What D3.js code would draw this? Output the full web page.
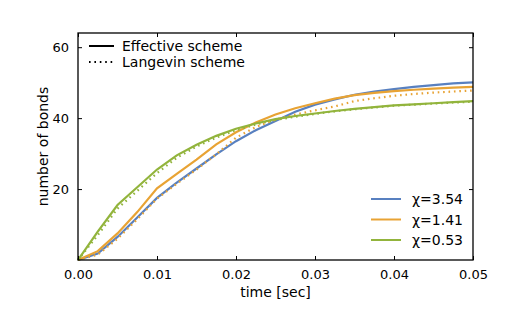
<!DOCTYPE html>
<html>
<head>
<meta charset="utf-8">
<script src="https://cdn.jsdelivr.net/npm/d3@7"></script>
<style>
  body { margin: 0; background: #fff; }
  text { font-family: "DejaVu Sans", sans-serif; fill: #000; }
</style>
</head>
<body>
<svg id="chart"></svg>
<script>
var options = {
    width: 525,
    height: 325,
    marginLeft: 78,
    marginRight: 52,
    marginTop: 33,
    marginBottom: 65,
    tickFont: 13,
    labelFont: 14,
    tickLen: 4
};

// time in seconds
var times = [0, 0.0025, 0.005, 0.0075, 0.01, 0.0125, 0.015, 0.0175, 0.02, 0.0225, 0.025,
    0.0275, 0.03, 0.0325, 0.035, 0.0375, 0.04, 0.0425, 0.045, 0.0475, 0.05];

// effective scheme (solid)
var effective354 = [0, 1.8, 6.5, 12, 17.5, 21.8, 25.8, 29.8, 33.5, 36.6, 39.2, 41.8, 43.8, 45.3, 46.6, 47.5, 48.2, 48.8, 49.3, 49.8, 50.1];
var effective141 = [0, 2.5, 7.5, 13.5, 20.2, 24.3, 28.3, 32.6, 36, 38.8, 41, 42.8, 44.2, 45.5, 46.5, 47.1, 47.6, 48, 48.3, 48.6, 48.8];
var effective053 = [0, 8, 15.5, 20.5, 25.5, 29.5, 32.5, 35, 37, 38.5, 39.7, 40.6, 41.3, 42, 42.6, 43.1, 43.6, 43.9, 44.2, 44.5, 44.8];

// langevin scheme (dotted)
var langevin141 = [0, 1.5, 6, 11.5, 17.3, 21.5, 25.5, 29.8, 34.5, 37.5, 39.6, 41, 42.2, 43.3, 44.8, 45.6, 46.3, 46.8, 47.2, 47.5, 47.8];
var langevin053 = [0, 7, 14.5, 19.5, 24.5, 28.8, 32, 34.5, 36.6, 38.2, 39.5, 40.4, 41.2, 41.9, 42.5, 43, 43.5, 43.8, 44.1, 44.4, 44.6];

var chiLabels = ["\u03c7=3.54", "\u03c7=1.41", "\u03c7=0.53"];
var colors = ["#5880c0", "#e8a334", "#92b43c"];
var schemeLabels = ["Effective scheme", "Langevin scheme"];

var xTicks = [0, 0.01, 0.02, 0.03, 0.04, 0.05];
var yTicks = [20, 40, 60];

var series = [
    {values: effective354, color: colors[0], dotted: false},
    {values: langevin141, color: colors[1], dotted: true},
    {values: effective141, color: colors[1], dotted: false},
    {values: langevin053, color: colors[2], dotted: true},
    {values: effective053, color: colors[2], dotted: false}
];

var plotW = options.width - options.marginLeft - options.marginRight;
var plotH = options.height - options.marginTop - options.marginBottom;

var xScale = d3.scaleLinear().domain([0, 0.05]).range([0, plotW]);
var yScale = d3.scaleLinear().domain([0, 64]).range([plotH, 0]);

var svg = d3.select('#chart')
    .attr('width', options.width)
    .attr('height', options.height);

var plotG = svg.append('g')
    .attr('transform', 'translate(' + options.marginLeft + ',' + options.marginTop + ')');

var line = d3.line()
    .x(function(d, i) { return xScale(times[i]); })
    .y(function(d) { return yScale(d); });

plotG.selectAll('.series')
    .data(series)
    .enter()
    .append('path')
    .attr('class', 'series')
    .attr('d', function(d) { return line(d.values); })
    .style('fill', 'none')
    .style('stroke', function(d) { return d.color; })
    .style('stroke-width', 2.2)
    .style('stroke-dasharray', function(d) { return d.dotted ? '1.6,3.8' : null; });

// axes: ticks pointing inward, mirrored on top/right
var xAxis = d3.axisBottom(xScale).tickValues(xTicks).tickFormat(d3.format('.2f'))
    .tickSizeInner(-options.tickLen).tickSizeOuter(0).tickPadding(10);
var yAxis = d3.axisLeft(yScale).tickValues(yTicks)
    .tickSizeInner(-options.tickLen).tickSizeOuter(0).tickPadding(9);
var xTop = d3.axisTop(xScale).tickValues(xTicks).tickFormat('')
    .tickSizeInner(-options.tickLen).tickSizeOuter(0);
var yRight = d3.axisRight(yScale).tickValues(yTicks).tickFormat('')
    .tickSizeInner(-options.tickLen).tickSizeOuter(0);

plotG.append('g').attr('class', 'axis').attr('transform', 'translate(0,' + plotH + ')').call(xAxis);
plotG.append('g').attr('class', 'axis').call(yAxis);
plotG.append('g').attr('class', 'axis').call(xTop);
plotG.append('g').attr('class', 'axis').attr('transform', 'translate(' + plotW + ',0)').call(yRight);

svg.selectAll('.axis .domain').remove();
svg.selectAll('.axis line').style('stroke', '#000').style('stroke-width', 1);
svg.selectAll('.axis text')
    .style('font-family', '"DejaVu Sans", sans-serif')
    .style('font-size', options.tickFont + 'px')
    .style('fill', '#000');

plotG.append('rect')
    .attr('width', plotW)
    .attr('height', plotH)
    .style('fill', 'none')
    .style('stroke', '#000')
    .style('stroke-width', 1.3);

// axis labels
svg.append('text')
    .attr('x', options.marginLeft + plotW / 2)
    .attr('y', 297)
    .style('text-anchor', 'middle')
    .style('font-size', options.labelFont + 'px')
    .text('time [sec]');

svg.append('text')
    .attr('transform', 'translate(48,' + (options.marginTop + plotH / 2) + ')rotate(-90)')
    .style('text-anchor', 'middle')
    .style('font-size', options.labelFont + 'px')
    .text('number of bonds');

// scheme legend (upper left)
var legend1 = plotG.selectAll('.legend1')
    .data(schemeLabels)
    .enter()
    .append('g')
    .attr('class', 'legend1')
    .attr('transform', function(d, i) { return 'translate(11,' + (13 + i * 16) + ')'; });

legend1.append('line')
    .attr('x1', 0).attr('x2', 25)
    .style('stroke', '#000')
    .style('stroke-width', 2)
    .style('stroke-dasharray', function(d, i) { return i === 1 ? '1.6,3.8' : null; });

legend1.append('text')
    .attr('x', 33)
    .attr('y', 5)
    .style('font-size', options.labelFont + 'px')
    .text(function(d) { return d; });

// chi legend (lower right)
var legend2 = plotG.selectAll('.legend2')
    .data(chiLabels)
    .enter()
    .append('g')
    .attr('class', 'legend2')
    .attr('transform', function(d, i) { return 'translate(293,' + (166 + i * 20.5) + ')'; });

legend2.append('line')
    .attr('x1', 0).attr('x2', 30)
    .style('stroke', function(d, i) { return colors[i]; })
    .style('stroke-width', 2);

legend2.append('text')
    .attr('x', 41)
    .attr('y', 5)
    .style('font-size', options.labelFont + 'px')
    .text(function(d) { return d; });
</script>
</body>
</html>
